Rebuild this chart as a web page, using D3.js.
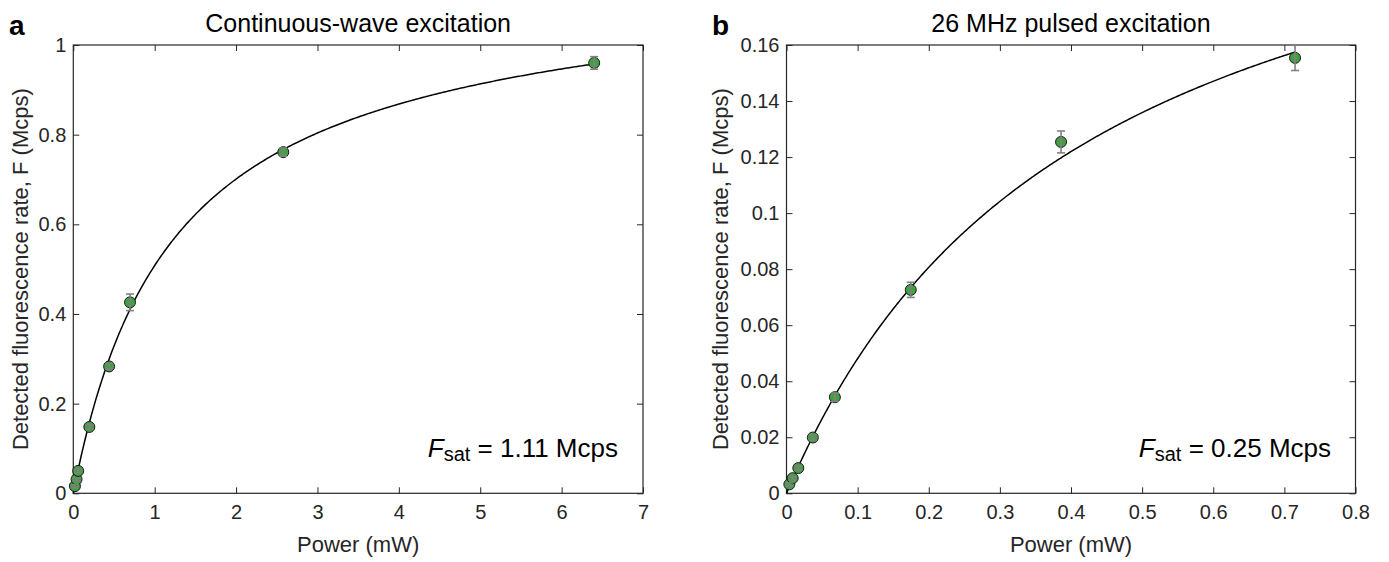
<!DOCTYPE html>
<html><head><meta charset="utf-8">
<script src="https://cdn.jsdelivr.net/npm/d3@7"></script>
<style>
html,body{margin:0;padding:0;background:#fff;}
svg{display:block;font-family:"Liberation Sans",Arial,Helvetica,sans-serif;}
</style></head>
<body>
<svg id="c" width="1389" height="562"></svg>
<script>
// ---- Panel a: continuous-wave ----
const cwPower = [0.02, 0.04, 0.06, 0.197, 0.44, 0.697, 2.58, 6.40];
const cwRate  = [0.016, 0.031, 0.050, 0.148, 0.283, 0.426, 0.761, 0.960];
const cwErr   = [0.003, 0.003, 0.004, 0.005, 0.006, 0.0185, 0.009, 0.014];
const cwXTicks = [0,1,2,3,4,5,6,7];
const cwYTicks = [0,0.2,0.4,0.6,0.8,1];
// saturation fit: F = A*P/(P+Psat) + c*P
const cwFit = {A:1.11, Psat:1.2, c:0.0036};

// ---- Panel b: 26 MHz pulsed ----
const puPower = [0.004, 0.0087, 0.0166, 0.037, 0.068, 0.1747, 0.386, 0.715];
const puRate  = [0.0032, 0.0054, 0.009, 0.0199, 0.0343, 0.0726, 0.1254, 0.1554];
const puErr   = [0.0005, 0.0006, 0.0008, 0.0010, 0.0015, 0.0027, 0.0039, 0.0045];
const puXTicks = [0,0.1,0.2,0.3,0.4,0.5,0.6,0.7,0.8];
const puYTicks = [0,0.02,0.04,0.06,0.08,0.1,0.12,0.14,0.16];
const puFit = {A:0.25, Psat:0.42, c:0};

const svg = d3.select("#c");
const axisCol = "#262626";

function panel(o){
  const g = svg.append("g");
  const x = d3.scaleLinear().domain(o.xdom).range([o.x0, o.x1]);
  const y = d3.scaleLinear().domain(o.ydom).range([o.y1, o.y0]);
  const fmt = d => String(+d.toFixed(3));
  g.append("rect").attr("x",o.x0).attr("y",o.y0).attr("width",o.x1-o.x0).attr("height",o.y1-o.y0)
    .attr("fill","none").attr("stroke",axisCol).attr("stroke-width",1.2);
  const tl = 6;
  const axB = d3.axisBottom(x).tickValues(o.xticks).tickSize(-tl).tickPadding(12).tickFormat(fmt);
  const axT = d3.axisTop(x).tickValues(o.xticks).tickSize(-tl).tickFormat("");
  const axL = d3.axisLeft(y).tickValues(o.yticks).tickSize(-tl).tickPadding(7).tickFormat(fmt);
  const axR = d3.axisRight(y).tickValues(o.yticks).tickSize(-tl).tickFormat("");
  [[axB,`translate(0,${o.y1})`],[axT,`translate(0,${o.y0})`],[axL,`translate(${o.x0},0)`],[axR,`translate(${o.x1},0)`]].forEach(([a,t])=>{
    const ag = g.append("g").attr("transform",t).call(a);
    ag.select(".domain").remove();
    ag.selectAll("line").attr("stroke",axisCol).attr("stroke-width",1);
    ag.selectAll("text").attr("fill",axisCol).style("font-size","20px").style("font-family","Liberation Sans, Arial, sans-serif");
  });
  // fit curve
  const xs = d3.range(0, 401).map(i => o.xdom[0] + (o.fitMax - o.xdom[0]) * i/400);
  const line = d3.line().x(d=>x(d)).y(d=>y(o.fit.A*d/(d+o.fit.Psat) + o.fit.c*d));
  g.append("path").datum(xs).attr("d",line).attr("fill","none").attr("stroke","#000").attr("stroke-width",1.5);
  // markers
  const pts = o.px.map((p,i)=>({p, f:o.py[i], e:o.pe[i]}));
  g.selectAll("circle.m").data(pts).join("circle").attr("class","m")
    .attr("cx",d=>x(d.p)).attr("cy",d=>y(d.f)).attr("r",5.5)
    .attr("fill","#42a042").attr("stroke","#1a1a1a").attr("stroke-width",1);
  // error bars
  const eb = g.selectAll("g.eb").data(pts).join("g").attr("class","eb").attr("stroke","#808080").attr("stroke-width",1.6);
  eb.append("line").attr("x1",d=>x(d.p)).attr("x2",d=>x(d.p)).attr("y1",d=>y(d.f-d.e)).attr("y2",d=>y(d.f+d.e));
  eb.append("line").attr("x1",d=>x(d.p)-4).attr("x2",d=>x(d.p)+4).attr("y1",d=>y(d.f-d.e)).attr("y2",d=>y(d.f-d.e));
  eb.append("line").attr("x1",d=>x(d.p)-4).attr("x2",d=>x(d.p)+4).attr("y1",d=>y(d.f+d.e)).attr("y2",d=>y(d.f+d.e));
  // titles
  g.append("text").attr("x",(o.x0+o.x1)/2).attr("y",32).attr("text-anchor","middle")
    .style("font-size","25px").attr("fill","#000").text(o.title);
  g.append("text").attr("x",o.lx).attr("y",35).style("font-size","28px").style("font-weight","bold").attr("fill","#000").text(o.letter);
  g.append("text").attr("x",(o.x0+o.x1)/2).attr("y",552).attr("text-anchor","middle")
    .style("font-size","22px").attr("fill",axisCol).text("Power (mW)");
  g.append("text").attr("transform",`translate(${o.lyx},${(o.y0+o.y1)/2}) rotate(-90)`).attr("text-anchor","middle")
    .style("font-size","22px").attr("fill",axisCol).text("Detected fluorescence rate, F (Mcps)");
  // annotation
  const t = g.append("text").attr("x",o.ax).attr("y",457).attr("text-anchor","end").style("font-size","26px").attr("fill","#000");
  t.append("tspan").style("font-style","italic").text("F");
  t.append("tspan").attr("dy",4).style("font-size","20px").text("sat");
  t.append("tspan").attr("dy",-4).text(" = " + o.note);
}

panel({x0:73.3, x1:643, y0:45, y1:493.3, xdom:[0,7], ydom:[0,1], xticks:cwXTicks, yticks:cwYTicks,
  fit:cwFit, fitMax:6.4, px:cwPower, py:cwRate, pe:cwErr, title:"Continuous-wave excitation", letter:"a", lx:9,
  ax:618, note:"1.11 Mcps", lyx:28});
panel({x0:786.5, x1:1355.5, y0:45, y1:493.3, xdom:[0,0.8], ydom:[0,0.16], xticks:puXTicks, yticks:puYTicks,
  fit:puFit, fitMax:0.715, px:puPower, py:puRate, pe:puErr, title:"26 MHz pulsed excitation", letter:"b", lx:712,
  ax:1331, note:"0.25 Mcps", lyx:728});
</script>
</body></html>
